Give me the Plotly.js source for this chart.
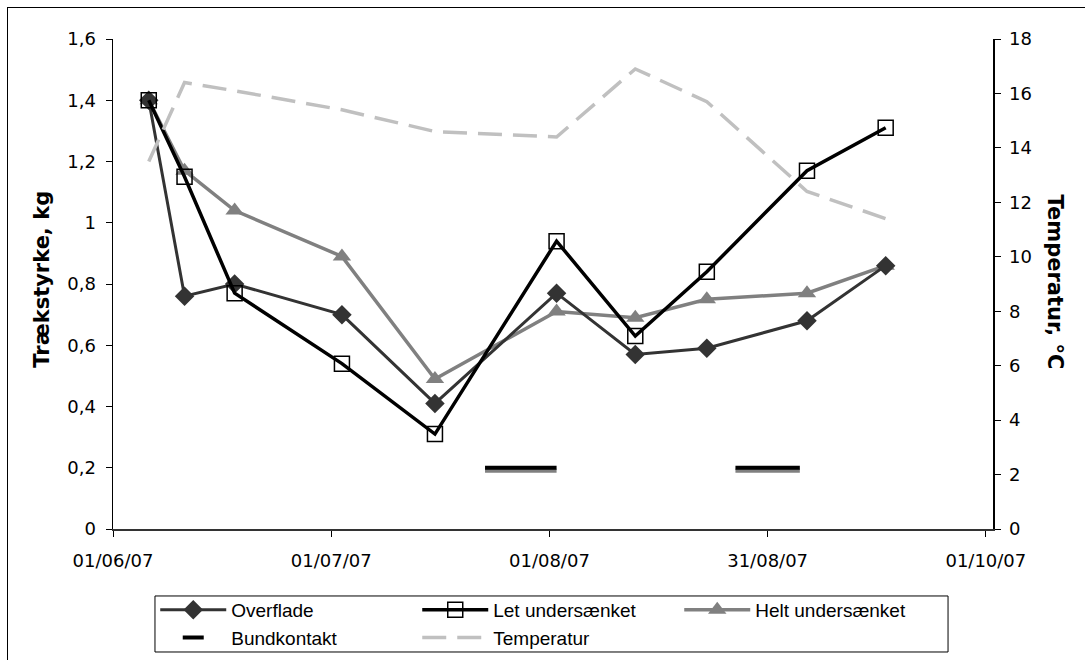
<!DOCTYPE html>
<html>
<head>
<meta charset="utf-8">
<script src="https://cdn.plot.ly/plotly-3.0.1.min.js"></script>
<style>
  html, body { margin: 0; padding: 0; background: #fff; }
  #wrap { position: relative; width: 1085px; height: 660px; overflow: hidden; }
  #chart { position: absolute; left: 0; top: 0; width: 1085px; height: 660px; }
  #frame { position: absolute; left: 7px; top: 7px; width: 1200px; height: 800px;
           border-left: 1px solid #000; border-top: 1px solid #000; pointer-events: none; }
</style>
</head>
<body>
<div id="wrap">
  <div id="chart"></div>
  <div id="frame"></div>
</div>
<script>
// Sampling dates
const dates = ['2007-06-06', '2007-06-11', '2007-06-18', '2007-07-03', '2007-07-16',
               '2007-08-02', '2007-08-13', '2007-08-23', '2007-09-06', '2007-09-17'];

// Trækstyrke, kg
const overflade       = [1.40, 0.76, 0.80, 0.70, 0.41, 0.77, 0.57, 0.59, 0.68, 0.86];
const letUndersaenket = [1.40, 1.15, 0.77, 0.54, 0.31, 0.94, 0.63, 0.84, 1.17, 1.31];
const heltUndersaenket= [1.40, 1.17, 1.04, 0.89, 0.49, 0.71, 0.69, 0.75, 0.77, 0.86];

// Temperatur, °C
const temperatur      = [13.5, 16.4, 16.1, 15.4, 14.6, 14.4, 16.9, 15.7, 12.4, 11.4];

// Bundkontakt periods (value on left axis)
const bundDates  = ['2007-07-23', '2007-08-02', null, '2007-08-27', '2007-09-05'];
const bundValues = [0.2, 0.2, null, 0.2, 0.2];
const bundShadow = [0.19, 0.19, null, 0.19, 0.19];

// Axis ticks
const xTickVals = ['2007-06-01', '2007-07-01 12:00', '2007-08-01', '2007-08-31 12:00', '2007-10-01'];
const xTickText = ['01/06/07', '01/07/07', '01/08/07', '31/08/07', '01/10/07'];
const yTickVals = [0, 0.2, 0.4, 0.6, 0.8, 1, 1.2, 1.4, 1.6];
const yTickText = ['0', '0,2', '0,4', '0,6', '0,8', '1', '1,2', '1,4', '1,6'];
const y2TickVals = [0, 2, 4, 6, 8, 10, 12, 14, 16, 18];

const traces = [
  { x: dates, y: temperatur, yaxis: 'y2', name: 'Temperatur', mode: 'lines',
    line: { color: '#c0c0c0', width: 3.5, dash: '24px,11px' }, legendrank: 5 },
  { x: bundDates, y: bundShadow, mode: 'lines', showlegend: false, connectgaps: false,
    line: { color: '#808080', width: 4 }, hoverinfo: 'skip' },
  { x: bundDates, y: bundValues, mode: 'lines', showlegend: false, connectgaps: false,
    line: { color: '#000000', width: 4 }, hoverinfo: 'skip' },
  { x: dates, y: heltUndersaenket, name: 'Helt undersænket', mode: 'lines+markers',
    line: { color: '#808080', width: 3.5 },
    marker: { symbol: 'triangle-up', size: 16, color: '#808080' }, legendrank: 3 },
  { x: dates, y: overflade, name: 'Overflade', mode: 'lines+markers',
    line: { color: '#333333', width: 3 },
    marker: { symbol: 'diamond', size: 15, color: '#333333' }, legendrank: 1 },
  { x: dates, y: letUndersaenket, name: 'Let undersænket', mode: 'lines+markers',
    line: { color: '#000000', width: 3.5 },
    marker: { symbol: 'square-open', size: 15, color: '#000000', line: { width: 1.5, color: '#000' } },
    legendrank: 2 },
  { x: [null], y: [null], name: 'Bundkontakt', mode: 'markers',
    marker: { symbol: 'line-ew', size: 15, color: '#000', line: { width: 4, color: '#000' } },
    legendrank: 4 }
];

const fontFam = 'DejaVu Sans, Verdana, sans-serif';

const layout = {
  width: 1085, height: 660,
  margin: { l: 113, r: 92, t: 39, b: 131, autoexpand: false },
  paper_bgcolor: '#fff', plot_bgcolor: '#fff',
  showlegend: true,
  font: { family: fontFam, size: 16, color: '#000' },
  xaxis: {
    type: 'date', range: ['2007-06-01', '2007-10-02'],
    tickvals: xTickVals, ticktext: xTickText,
    showgrid: false, zeroline: false,
    showline: true, linecolor: '#333', linewidth: 2,
    ticks: 'outside', ticklen: 6, tickcolor: '#000', tickwidth: 1,
    ticklabelstandoff: 8,
    tickfont: { family: fontFam, size: 18 }
  },
  yaxis: {
    range: [0, 1.6], tickvals: yTickVals, ticktext: yTickText,
    showgrid: false, zeroline: false,
    showline: true, linecolor: '#000', linewidth: 1.5,
    ticks: 'outside', ticklen: 6, tickcolor: '#000',
    ticklabelstandoff: 6,
    tickfont: { family: fontFam, size: 18 }
  },
  yaxis2: {
    overlaying: 'y', side: 'right', range: [0, 18], tickvals: y2TickVals,
    showgrid: false, zeroline: false,
    showline: true, linecolor: '#000', linewidth: 1.5,
    ticks: 'outside', ticklen: 6, tickcolor: '#000',
    ticklabelstandoff: 5,
    tickfont: { family: fontFam, size: 18 }
  },
  annotations: [
    { text: '<b>Trækstyrke, kg</b>', xref: 'paper', yref: 'paper',
      x: -0.080, y: 0.51, xanchor: 'center', yanchor: 'middle',
      textangle: -90, showarrow: false,
      font: { family: fontFam, size: 21, color: '#000' } },
    { text: '<b>Temperatur, °C</b>', xref: 'paper', yref: 'paper',
      x: 1.0705, y: 0.505, xanchor: 'center', yanchor: 'middle',
      textangle: 90, showarrow: false,
      font: { family: fontFam, size: 21, color: '#000' } }
  ],
  shapes: [
    { type: 'rect', xref: 'paper', yref: 'paper',
      x0: 0.0477, x1: 0.9489, y0: -0.251, y1: -0.1367,
      line: { color: '#000', width: 1 }, fillcolor: 'rgba(0,0,0,0)', layer: 'above' }
  ],
  legend: {
    orientation: 'h', x: 0.048, y: -0.1265, xanchor: 'left', yanchor: 'top',
    borderwidth: 0, bgcolor: 'rgba(0,0,0,0)',
    entrywidth: 181, traceorder: 'normal',
    font: { family: 'Liberation Sans Narrow, Liberation Sans, Arial, sans-serif', size: 19 },
    itemwidth: 66, tracegroupgap: 0
  }
};

Plotly.newPlot('chart', traces, layout, { displayModeBar: false, staticPlot: true });
</script>
</body>
</html>
